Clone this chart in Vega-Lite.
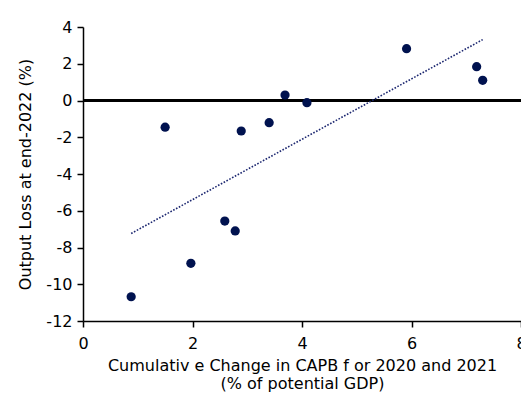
{
  "$schema": "https://vega.github.io/schema/vega-lite/v6.json",
  "width": 438,
  "height": 294,
  "autosize": "none",
  "padding": {"left": 83, "top": 27, "right": 0, "bottom": 77},
  "background": "white",
  "config": {
    "view": {"stroke": null},
    "font": "DejaVu Sans",
    "axis": {
      "grid": false,
      "labelFlush": false,
      "labelOverlap": false,
      "domainColor": "black",
      "domainWidth": 1.5,
      "tickColor": "black",
      "tickWidth": 1.5,
      "tickSize": 6,
      "labelFont": "DejaVu Sans",
      "labelFontSize": 16,
      "labelColor": "black",
      "titleFont": "DejaVu Sans",
      "titleFontSize": 16,
      "titleFontWeight": "normal",
      "titleColor": "black"
    }
  },
  "data": {
    "values": [
      {"capb": 0.88, "loss": -10.68},
      {"capb": 1.50, "loss": -1.45},
      {"capb": 1.97, "loss": -8.86},
      {"capb": 2.59, "loss": -6.56},
      {"capb": 2.78, "loss": -7.10},
      {"capb": 2.89, "loss": -1.66},
      {"capb": 3.40, "loss": -1.21},
      {"capb": 3.69, "loss": 0.30},
      {"capb": 4.09, "loss": -0.12},
      {"capb": 5.91, "loss": 2.82},
      {"capb": 7.19, "loss": 1.84},
      {"capb": 7.30, "loss": 1.10}
    ]
  },
  "encoding": {
    "x": {
      "field": "capb",
      "type": "quantitative",
      "scale": {"domain": [0, 8], "nice": false, "zero": false},
      "axis": {
        "values": [0, 2, 4, 6, 8],
        "labelPadding": 8,
        "title": ["Cumulativ e Change in CAPB f or 2020 and 2021", "(% of potential GDP)"],
        "titlePadding": 6,
        "titleLineHeight": 18
      }
    },
    "y": {
      "field": "loss",
      "type": "quantitative",
      "scale": {"domain": [-12, 4], "nice": false, "zero": false},
      "axis": {
        "values": [-12, -10, -8, -6, -4, -2, 0, 2, 4],
        "labelExpr": "'' + datum.value",
        "labelPadding": 5,
        "title": "Output Loss at end-2022  (%)",
        "titlePadding": 12
      }
    }
  },
  "layer": [
    {
      "mark": {"type": "rule", "color": "black", "strokeWidth": 2},
      "encoding": {"y": {"datum": 0}, "x": null}
    },
    {
      "transform": [{"regression": "loss", "on": "capb"}],
      "mark": {"type": "line", "color": "#1c2770", "strokeWidth": 1.6, "strokeDash": [1.6, 1.6]}
    },
    {
      "mark": {"type": "circle", "size": 85, "color": "#00124f", "opacity": 1}
    }
  ]
}
